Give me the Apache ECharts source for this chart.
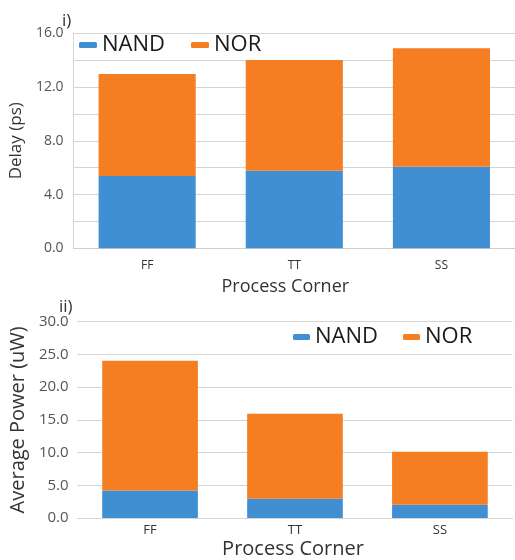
<!DOCTYPE html>
<html><head><meta charset="utf-8">
<script src="https://cdn.jsdelivr.net/npm/echarts@6/dist/echarts.min.js"></script>
<style>html,body{margin:0;padding:0;background:#fff}#c{width:515px;height:560px}</style>
</head><body><div id="c"></div>
<script>
const categories = ['FF', 'TT', 'SS'];
const delayNAND = [5.38, 5.77, 6.07];
const delayNOR = [7.59, 8.24, 8.81];
const powerNAND = [4.19, 2.93, 2.02];
const powerNOR = [19.84, 13.01, 8.09];
const seriesNames = ['NAND', 'NOR'];
const colors = ['#3f8fd2', '#f57d22'];
const FONT = '"Open Sans", "Liberation Sans", sans-serif';

const chart = echarts.init(document.getElementById('c'), null, {renderer: 'canvas'});
const gridLine = {show: true, lineStyle: {color: '#d4d4d4', width: 1}};
chart.setOption({
  animation: false,
  color: colors,
  textStyle: {fontFamily: FONT},
  grid: [
    {left: 72.5, top: 33.3, width: 447, height: 215},
    {left: 66.4, top: 321.7, width: 446, height: 197.6}
  ],
  legend: [
    {data: seriesNames, left: 74, top: 29, itemWidth: 18, itemHeight: 6, itemGap: 26,
     icon: 'roundRect', textStyle: {fontSize: 22, color: '#1a1a1a', fontFamily: FONT}},
    {data: seriesNames, left: 288, top: 321, itemWidth: 17, itemHeight: 6, itemGap: 25,
     icon: 'roundRect', textStyle: {fontSize: 22, color: '#1a1a1a', fontFamily: FONT}}
  ],
  xAxis: [
    {type: 'category', gridIndex: 0, data: categories,
     axisLine: {lineStyle: {color: '#cfcfcf'}}, axisTick: {show: false},
     axisLabel: {color: '#333', fontSize: 12, margin: 11, fontFamily: FONT},
     name: 'Process Corner', nameLocation: 'middle', nameGap: 30,
     nameTextStyle: {fontSize: 18, color: '#333', fontFamily: FONT, padding: [0, 18, 0, 0]}},
    {type: 'category', gridIndex: 1, data: categories,
     axisLine: {lineStyle: {color: '#d4d4d4'}}, axisTick: {show: false},
     axisLabel: {color: '#333', fontSize: 13, margin: 6, fontFamily: FONT},
     name: 'Process Corner', nameLocation: 'middle', nameGap: 21,
     nameTextStyle: {fontSize: 20, color: '#333', fontFamily: FONT, padding: [0, 4, 0, 0]}}
  ],
  yAxis: [
    {type: 'value', gridIndex: 0, min: 0, max: 16, interval: 2,
     axisLine: {show: true, lineStyle: {color: '#d4d4d4'}}, axisTick: {show: false},
     splitLine: gridLine,
     axisLabel: {color: '#555', fontSize: 14, margin: 10, fontFamily: FONT,
       formatter: v => (v % 4 === 0 ? v.toFixed(1) : '')},
     name: 'Delay (ps)', nameLocation: 'middle', nameGap: 42,
     nameTextStyle: {fontSize: 17, color: '#333', fontFamily: FONT}},
    {type: 'value', gridIndex: 1, min: 0, max: 30, interval: 5,
     axisLine: {show: false}, axisTick: {show: false},
     splitLine: gridLine,
     axisLabel: {color: '#555', fontSize: 15, margin: 9, fontFamily: FONT,
       formatter: v => v.toFixed(1)},
     name: 'Average Power (uW)', nameLocation: 'middle', nameGap: 41,
     nameTextStyle: {fontSize: 20, color: '#333', fontFamily: FONT}}
  ],
  series: [
    {name: 'NAND', type: 'bar', stack: 'd', xAxisIndex: 0, yAxisIndex: 0, data: delayNAND, barWidth: '66%'},
    {name: 'NOR', type: 'bar', stack: 'd', xAxisIndex: 0, yAxisIndex: 0, data: delayNOR, barWidth: '66%'},
    {name: 'NAND', type: 'bar', stack: 'p', xAxisIndex: 1, yAxisIndex: 1, data: powerNAND, barWidth: '66%'},
    {name: 'NOR', type: 'bar', stack: 'p', xAxisIndex: 1, yAxisIndex: 1, data: powerNOR, barWidth: '66%'}
  ],
  graphic: [
    {type: 'text', left: 62, top: 13, style: {text: 'i)', fontSize: 17, fill: '#333', fontFamily: FONT}},
    {type: 'text', left: 59, top: 299, style: {text: 'ii)', fontSize: 17, fill: '#333', fontFamily: FONT}}
  ]
});
</script></body></html>
